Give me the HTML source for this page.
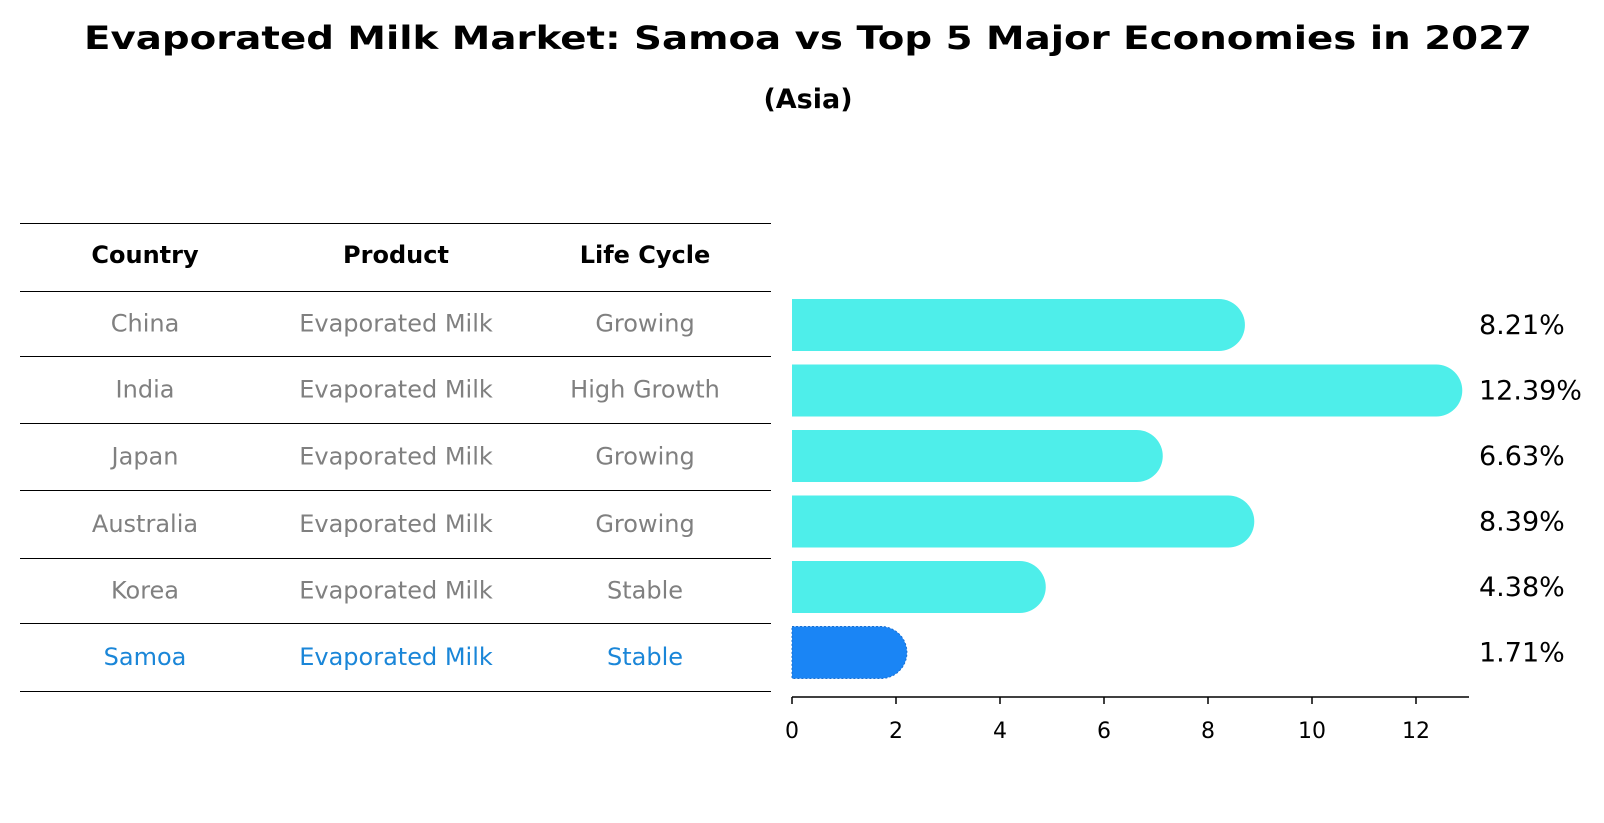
<!DOCTYPE html>
<html><head><meta charset="utf-8"><style>
body{margin:0;background:#fff}
svg{display:block;font-family:"DejaVu Sans","Liberation Sans",sans-serif}
</style></head><body>
<svg width="1604" height="823" viewBox="0 0 1604 823" xmlns="http://www.w3.org/2000/svg">
<text x="808" y="49" text-anchor="middle" font-size="32" font-weight="bold" textLength="1448" lengthAdjust="spacingAndGlyphs">Evaporated Milk Market: Samoa vs Top 5 Major Economies in 2027</text>
<text x="808" y="108" text-anchor="middle" font-size="27" font-weight="bold">(Asia)</text>
<g id="table"></g>
<g id="chart"></g>
</svg>
<script>
const countries=["China","India","Japan","Australia","Korea","Samoa"];
const products=["Evaporated Milk","Evaporated Milk","Evaporated Milk","Evaporated Milk","Evaporated Milk","Evaporated Milk"];
const lifeCycles=["Growing","High Growth","Growing","Growing","Stable","Stable"];
const values=[8.21,12.39,6.63,8.39,4.38,1.71];
const ticks=[0,2,4,6,8,10,12];
const NS="http://www.w3.org/2000/svg";
function mk(tag,attrs,parent){const e=document.createElementNS(NS,tag);for(const k in attrs)e.setAttribute(k,attrs[k]);parent.appendChild(e);return e;}
const tbl=document.getElementById('table');
const lineYs=[223,291,356,423,490,558,623,691];
const colX=[145,396,645];
lineYs.forEach((y,i)=>{const l=mk('line',{x1:20,x2:771,y1:y+0.5,y2:y+0.5,stroke:'#000','stroke-width':1},tbl);

});
["Country","Product","Life Cycle"].forEach((h,j)=>{const t=mk('text',{x:colX[j],y:263,'text-anchor':'middle','font-size':24,'font-weight':'bold'},tbl);t.textContent=h;

});
countries.forEach((c,i)=>{const y=(lineYs[i+1]+lineYs[i+2])/2+8;const col=c==="Samoa"?'#1a86d8':'#808080';
[c,products[i],lifeCycles[i]].forEach((v,j)=>{const t=mk('text',{x:colX[j],y:y,'text-anchor':'middle','font-size':24,fill:col},tbl);t.textContent=v;

});});
const ch=document.getElementById('chart');
const x0=792,k=52,r=26;
const xs=v=>x0+v*k;
const yc=i=>325+i*65.5;
values.forEach((v,i)=>{const c=yc(i);const x1=xs(v);const sam=countries[i]==="Samoa";
const p=mk('path',{d:`M${x0},${c-r} L${x1},${c-r} A${r},${r} 0 0 1 ${x1},${c+r} L${x0},${c+r} Z`,fill:sam?'#1a85f5':'#4eeeea',stroke:sam?'#1a6fd0':'none','stroke-dasharray':sam?'2,2':'none'},ch);


const t=mk('text',{x:1479,y:c+9,'font-size':27},ch);t.textContent=v.toFixed(2)+'%';

});
const ax=mk('line',{x1:x0,x2:1469,y1:697,y2:697,stroke:'#000','stroke-width':1.5},ch);


ticks.forEach(v=>{const tl=mk('line',{x1:xs(v),x2:xs(v),y1:697,y2:704,stroke:'#000','stroke-width':1.5},ch);


const t=mk('text',{x:xs(v),y:738,'text-anchor':'middle','font-size':22},ch);t.textContent=v;

});
</script>
</body></html>
